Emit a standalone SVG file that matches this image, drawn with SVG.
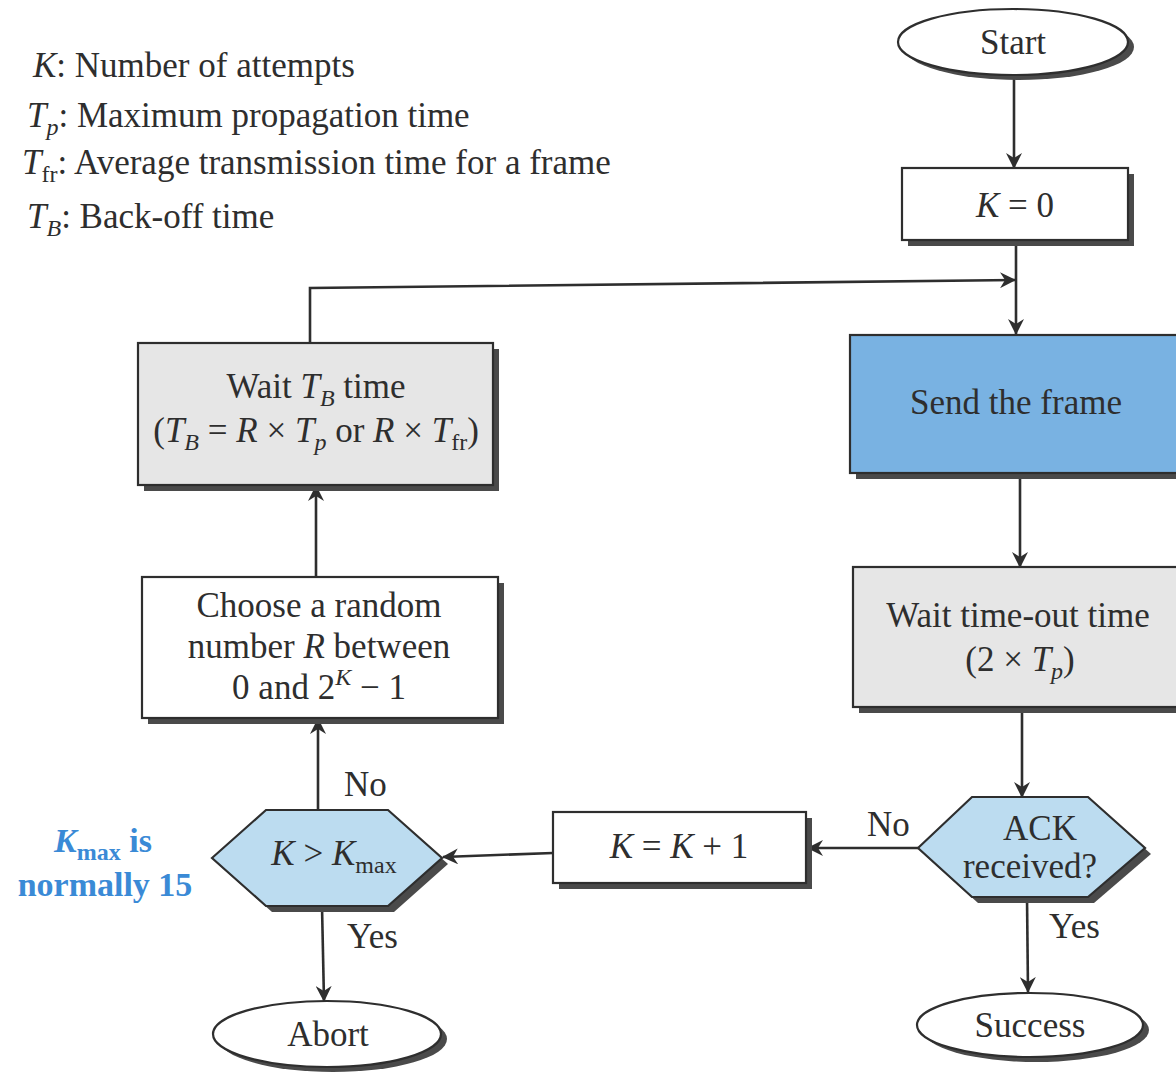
<svg xmlns="http://www.w3.org/2000/svg" width="1176" height="1075" viewBox="0 0 1176 1075">
<defs>
<style>
text{font-family:"Liberation Serif","Times New Roman",serif;fill:#2e2e2e;font-size:35px}
.c{text-anchor:middle}
.i{font-style:italic}
.sub{font-size:24px}
.node{stroke:#2e2e2e;stroke-width:2.2}
.sh{fill:#4a4a4a}
.w{fill:#ffffff}
.g{fill:#e6e6e6}
.b{fill:#79b2e2}
.lb{fill:#bcdcf0}
.edge{fill:none;stroke:#2e2e2e;stroke-width:2.6}
.blue{fill:#3a8ad6;font-weight:bold;font-size:34px}
</style>
<marker id="ah" viewBox="0 0 16 16" refX="15" refY="8" markerWidth="16" markerHeight="16" markerUnits="userSpaceOnUse" orient="auto">
<path d="M0,0 L16,8 L0,16 L5,8 z" fill="#2e2e2e"/>
</marker>
</defs>
<rect width="1176" height="1075" fill="#ffffff"/>

<g id="legend">
<text x="33" y="77"><tspan class="i">K</tspan>: Number of attempts</text>
<text x="27" y="127"><tspan class="i">T</tspan><tspan class="sub i" dy="8">p</tspan><tspan dy="-8">: Maximum propagation time</tspan></text>
<text x="22" y="174"><tspan class="i">T</tspan><tspan class="sub" dy="8">fr</tspan><tspan dy="-8">: Average transmission time for a frame</tspan></text>
<text x="27" y="228"><tspan class="i">T</tspan><tspan class="sub i" dy="8">B</tspan><tspan dy="-8">: Back-off time</tspan></text>
</g>

<g id="note">
<text class="c blue" x="103" y="852"><tspan class="i">K</tspan><tspan class="sub" dy="8">max</tspan><tspan dy="-8"> is</tspan></text>
<text class="c blue" x="105" y="896">normally 15</text>
</g>

<g id="connectors">
<line class="edge" x1="1014" y1="75" x2="1014" y2="168" marker-end="url(#ah)"/>
<line class="edge" x1="1016" y1="240" x2="1016" y2="334" marker-end="url(#ah)"/>
<polyline class="edge" points="310,343 310,288 1015,280" marker-end="url(#ah)"/>
<line class="edge" x1="1020" y1="473" x2="1020" y2="567" marker-end="url(#ah)"/>
<line class="edge" x1="1022" y1="707" x2="1022" y2="797" marker-end="url(#ah)"/>
<line class="edge" x1="918" y1="848" x2="808" y2="848" marker-end="url(#ah)"/>
<line class="edge" x1="553" y1="853" x2="443" y2="857" marker-end="url(#ah)"/>
<line class="edge" x1="318" y1="810" x2="318" y2="719" marker-end="url(#ah)"/>
<line class="edge" x1="316" y1="577" x2="316" y2="486" marker-end="url(#ah)"/>
<line class="edge" x1="322" y1="906" x2="324" y2="1001" marker-end="url(#ah)"/>
<line class="edge" x1="1027" y1="897" x2="1028" y2="992" marker-end="url(#ah)"/>
<text x="344" y="796">No</text>
<text x="347" y="948">Yes</text>
<text x="867" y="836">No</text>
<text x="1049" y="938">Yes</text>
</g>

<g id="start">
<ellipse class="sh" cx="1019" cy="47" rx="115" ry="33"/>
<ellipse class="node w" cx="1013" cy="42" rx="115" ry="33"/>
<text class="c" x="1013" y="54">Start</text>
</g>

<g id="k0">
<rect class="sh" x="908" y="174" width="226" height="72"/>
<rect class="node w" x="902" y="168" width="226" height="72"/>
<text class="c" x="1015" y="217"><tspan class="i">K</tspan> = 0</text>
</g>

<g id="waitTB">
<rect class="sh" x="144" y="349" width="355" height="142"/>
<rect class="node g" x="138" y="343" width="355" height="142"/>
<text class="c" x="316" y="398">Wait <tspan class="i">T</tspan><tspan class="sub i" dy="8">B</tspan><tspan dy="-8"> time</tspan></text>
<text class="c" x="316" y="442">(<tspan class="i">T</tspan><tspan class="sub i" dy="8">B</tspan><tspan dy="-8"> = </tspan><tspan class="i">R</tspan> × <tspan class="i">T</tspan><tspan class="sub i" dy="8">p</tspan><tspan dy="-8"> or </tspan><tspan class="i">R</tspan> × <tspan class="i">T</tspan><tspan class="sub" dy="8">fr</tspan><tspan dy="-8">)</tspan></text>
</g>

<g id="send">
<rect class="sh" x="856" y="341" width="340" height="138"/>
<rect class="node b" x="850" y="335" width="340" height="138"/>
<text class="c" x="1016" y="414">Send the frame</text>
</g>

<g id="choose">
<rect class="sh" x="148" y="583" width="356" height="141"/>
<rect class="node w" x="142" y="577" width="356" height="141"/>
<text class="c" x="319" y="617">Choose a random</text>
<text class="c" x="319" y="658">number <tspan class="i">R</tspan> between</text>
<text class="c" x="319" y="699">0 and 2<tspan class="sub i" dy="-14">K</tspan><tspan dy="14"> − 1</tspan></text>
</g>

<g id="waitTimeout">
<rect class="sh" x="859" y="573" width="340" height="140"/>
<rect class="node g" x="853" y="567" width="340" height="140"/>
<text class="c" x="1018" y="627">Wait time-out time</text>
<text class="c" x="1020" y="671">(2 × <tspan class="i">T</tspan><tspan class="sub i" dy="8">p</tspan><tspan dy="-8">)</tspan></text>
</g>

<g id="kmax">
<polygon class="sh" points="218,864 272,816 394,816 448,864 394,912 272,912"/>
<polygon class="node lb" points="212,858 266,810 388,810 442,858 388,906 266,906"/>
<text class="c" x="334" y="865"><tspan class="i">K</tspan> &gt; <tspan class="i">K</tspan><tspan class="sub" dy="8">max</tspan></text>
</g>

<g id="kinc">
<rect class="sh" x="559" y="818" width="253" height="71"/>
<rect class="node w" x="553" y="812" width="253" height="71"/>
<text class="c" x="679" y="858"><tspan class="i">K</tspan> = <tspan class="i">K</tspan> + 1</text>
</g>

<g id="ack">
<polygon class="sh" points="924,854 978,803 1094,803 1151,854 1094,903 978,903"/>
<polygon class="node lb" points="918,848 972,797 1088,797 1145,848 1088,897 972,897"/>
<text class="c" x="1040" y="840">ACK</text>
<text class="c" x="1030" y="878">received?</text>
</g>

<g id="abort">
<ellipse class="sh" cx="333" cy="1039" rx="114" ry="33"/>
<ellipse class="node w" cx="327" cy="1034" rx="114" ry="33"/>
<text class="c" x="328" y="1046">Abort</text>
</g>

<g id="success">
<ellipse class="sh" cx="1036" cy="1030" rx="113" ry="32"/>
<ellipse class="node w" cx="1030" cy="1025" rx="113" ry="32"/>
<text class="c" x="1030" y="1037">Success</text>
</g>
</svg>
